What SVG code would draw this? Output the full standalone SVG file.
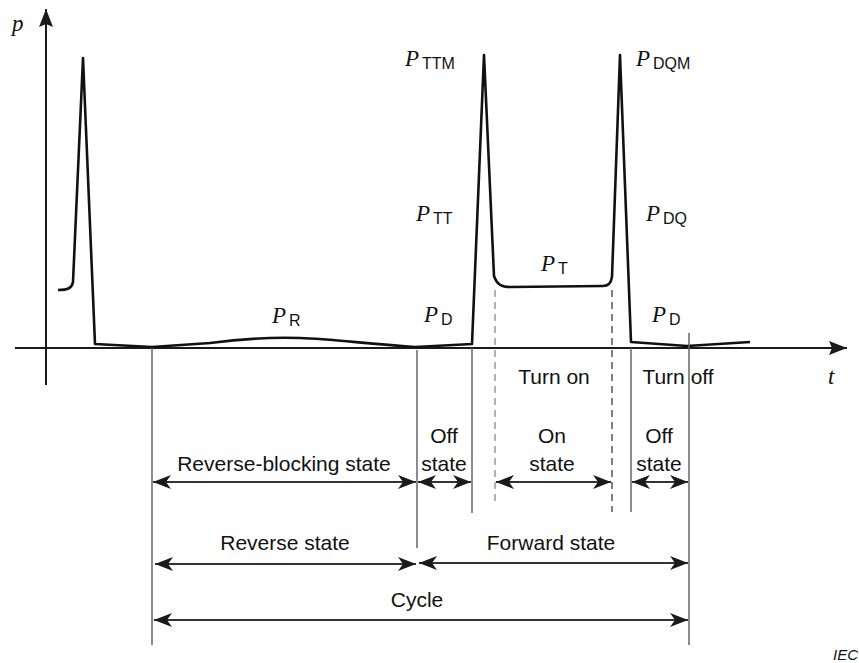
<svg xmlns="http://www.w3.org/2000/svg" width="859" height="663" viewBox="0 0 859 663">
<style>
.lbl{font-family:"Liberation Sans",Arial,sans-serif;font-size:21px;fill:#111;text-anchor:middle}
.var{font-family:"Liberation Serif","Times New Roman",serif;font-style:italic;font-size:23px;fill:#111}
.sub{font-family:"Liberation Sans",Arial,sans-serif;font-style:normal;font-size:16px}
.vl{stroke:#666;stroke-width:1.5;fill:none}
.dim{stroke:#333;stroke-width:2;fill:none;marker-start:url(#ah);marker-end:url(#ah)}
</style>
<defs>
<marker id="ah" viewBox="0 0 18 14" refX="18" refY="7" markerWidth="18" markerHeight="14" markerUnits="userSpaceOnUse" orient="auto-start-reverse">
<path d="M0,0 L18,7 L0,14 L5,7 Z" fill="#1a1a1a"/>
</marker>
<marker id="ax" viewBox="0 0 18 14" refX="18" refY="7" markerWidth="18" markerHeight="14" markerUnits="userSpaceOnUse" orient="auto">
<path d="M0,0 L18,7 L0,14 L3,7 Z" fill="#1a1a1a"/>
</marker>
</defs>
<rect width="859" height="663" fill="#fff"/>
<g id="axes">
<line x1="46" y1="385" x2="46" y2="9" stroke="#1a1a1a" stroke-width="2" marker-end="url(#ax)"/>
<line x1="15" y1="348" x2="847" y2="348" stroke="#1a1a1a" stroke-width="2.2" marker-end="url(#ax)"/>
<text class="var" x="12" y="31">p</text>
<text class="var" x="828" y="384">t</text>
</g>
<g id="curve">
<path d="M58,290 C68,290 72,288 73,282 L83,58 L95,344 L152,347 L210,343 C240,339 270,337 300,338 C330,339 360,343 415,347 L472,344 L484,55 L494,276 C497,285 502,287 510,287 L603,286 C609,286 611,283 612,277 L620,55 L631,342 L687,346 L750,342" fill="none" stroke="#111" stroke-width="2.6" stroke-linejoin="round"/>
</g>
<g id="connectors">
<line class="vl" x1="152" y1="348" x2="152" y2="645"/>
<line class="vl" x1="417" y1="350" x2="417" y2="548"/>
<line class="vl" x1="472" y1="348" x2="472" y2="513"/>
<line x1="495" y1="290" x2="495" y2="505" stroke="#999" stroke-width="1.5" stroke-dasharray="7,5"/>
<line x1="612" y1="290" x2="612" y2="512" stroke="#555" stroke-width="1.5" stroke-dasharray="7,5"/>
<line class="vl" x1="631" y1="348" x2="631" y2="512"/>
<line class="vl" x1="689" y1="333" x2="689" y2="645"/>
<line class="dim" x1="153" y1="482" x2="416" y2="482"/>
<line class="dim" x1="418" y1="482" x2="471" y2="482"/>
<line class="dim" x1="496" y1="482" x2="611" y2="482"/>
<line class="dim" x1="632" y1="482" x2="688" y2="482"/>
<line class="dim" x1="155" y1="564" x2="416" y2="564"/>
<line class="dim" x1="419" y1="563" x2="688" y2="563"/>
<line class="dim" x1="154" y1="620" x2="688" y2="620"/>
</g>
<g id="labels">
<text class="var" x="272" y="323">P<tspan class="sub" dx="3" dy="3">R</tspan></text>
<text class="var" x="424" y="322">P<tspan class="sub" dx="3" dy="3">D</tspan></text>
<text class="var" x="405" y="66">P<tspan class="sub" dx="3" dy="3">TTM</tspan></text>
<text class="var" x="416" y="221">P<tspan class="sub" dx="3" dy="3">TT</tspan></text>
<text class="var" x="541" y="271">P<tspan class="sub" dx="3" dy="3">T</tspan></text>
<text class="var" x="636" y="66">P<tspan class="sub" dx="3" dy="3">DQM</tspan></text>
<text class="var" x="646" y="221">P<tspan class="sub" dx="3" dy="3">DQ</tspan></text>
<text class="var" x="652" y="322">P<tspan class="sub" dx="3" dy="3">D</tspan></text>
<text class="lbl" x="554" y="384">Turn on</text>
<text class="lbl" x="678" y="384">Turn off</text>
<text class="lbl" x="444" y="443">Off</text>
<text class="lbl" x="444" y="471">state</text>
<text class="lbl" x="552" y="443">On</text>
<text class="lbl" x="552" y="471">state</text>
<text class="lbl" x="659" y="443">Off</text>
<text class="lbl" x="659" y="471">state</text>
<text class="lbl" x="284" y="471">Reverse-blocking state</text>
<text class="lbl" x="285" y="550">Reverse state</text>
<text class="lbl" x="551" y="550">Forward state</text>
<text class="lbl" x="417" y="607">Cycle</text>
<text x="858" y="660" style="font-family:'Liberation Sans',Arial,sans-serif;font-style:italic;font-size:15px;fill:#111;text-anchor:end">IEC</text>
</g>
</svg>
